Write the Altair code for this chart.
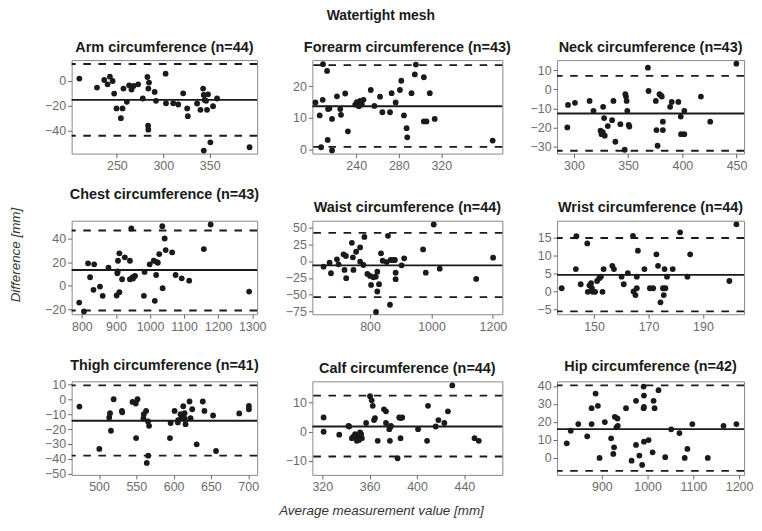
import altair as alt
import pandas as pd

FONT = "Liberation Sans"

# ---------------- data (average value, difference) ----------------
arm_x = [209.6, 228.6, 236.4, 240.0, 242.5, 245.4, 247.1, 249.6, 254.3, 256.1, 257.1, 260.7, 263.2, 265.7, 267.9,
         272.9, 277.9, 282.9, 283.9, 284.6, 283.6, 283.9, 290.7, 292.1, 302.5, 302.9, 310.7, 316.1, 321.4, 325.7,
         326.4, 336.4, 340.0, 342.9, 343.6, 344.6, 346.1, 347.1, 348.2, 353.6, 357.9, 343.6, 350.7, 392.9]
arm_y = [1.9, -5.3, 0.8, -2.7, 3.5, 0.0, -10.1, -22.1, -29.9, -22.1, -6.1, -16.8, -3.5, -6.9, -4.0,
         -2.7, -14.1, 3.2, -6.1, -1.3, -36.0, -39.2, -8.8, -16.0, 5.9, -17.9, -17.9, -18.9, -9.9, -22.1,
         -28.3, -18.1, -23.2, -6.1, -11.2, -15.2, -16.0, -23.2, -10.7, -20.3, -14.1, -56.0, -49.3, -53.3]
arm_lines = [-15.2, 13.6, -44.0]

forearm_x = [201.7, 205.7, 207.0, 208.5, 208.8, 212.6, 213.2, 213.5, 214.8, 217.3, 217.3, 221.9, 225.0, 225.7,
             229.7, 232.2, 239.1, 240.6, 242.5, 243.7, 245.3, 246.9, 253.7, 257.1, 262.4, 264.6, 271.8, 273.3,
             277.1, 281.1, 282.4, 284.9, 287.4, 288.0, 292.0, 296.1, 295.1, 303.6, 303.6, 306.1, 309.2, 313.8, 368.3]
forearm_y = [14.9, 10.8, 0.8, 15.7, 26.9, 24.8, 3.1, 12.8, 13.0, 9.7, -0.2, 16.8, 12.8, 11.0,
             17.7, 5.8, 14.2, 15.0, 13.7, 15.4, 14.2, 15.7, 18.8, 13.8, 16.7, 11.8, 11.8, 17.8,
             14.9, 18.8, 21.7, 10.8, 6.8, 3.9, 17.8, 26.8, 23.7, 22.8, 8.9, 8.9, 17.8, 9.7, 2.9]
forearm_lines = [13.7, 26.6, 0.9]

neck_x = [293.9, 294.5, 300.9, 314.4, 318.0, 326.9, 324.5, 325.4, 326.6, 327.8, 336.4, 331.2, 335.2, 338.2,
          342.8, 346.8, 347.4, 348.0, 348.6, 349.2, 350.5, 351.1, 368.2, 368.8, 375.5, 376.1, 377.1, 378.9,
          380.1, 381.0, 382.0, 382.0, 388.7, 390.2, 396.3, 398.5, 398.8, 401.8, 401.8, 417.1, 425.7, 449.8, 328.4]
neck_y = [-20.0, -8.2, -7.1, -6.1, -11.3, -9.2, -21.7, -23.5, -22.4, -15.1, -6.1, -19.3, -16.2, -27.5,
          -18.3, -31.7, -2.6, -3.8, -6.1, -11.3, -18.6, -19.5, 11.3, -0.9, -6.1, -21.4, -29.6, -2.6,
          -3.1, -3.8, -21.4, -17.0, -9.2, -6.6, -6.6, -14.3, -23.5, -23.5, -11.3, -3.8, -17.0, 13.4, -24.3]
neck_lines = [-12.7, 7.0, -32.2]

chest_x = [792, 818, 836, 824, 834, 853, 861, 878, 904, 902, 910, 906, 910, 918, 926, 941, 945, 941, 949, 956,
           982, 984, 999, 1011, 1014, 1018, 1023, 1027, 1037, 1036, 1043, 1046, 1065, 1075, 1093, 1115, 1158,
           1178, 1291, 806, 950, 1020, 905]
chest_y = [-14.4, 18.9, 18.1, 7.1, -3.6, -0.8, -8.7, 15.2, 10.5, -8.4, -5.6, 21.1, 27.4, 5.4, 24.0, 21.1, 48.5,
           5.4, 7.1, 8.2, -8.7, 11.6, 18.1, 21.1, -12.9, 9.0, 19.4, 26.8, -2.2, 50.5, 40.0, 30.2, 28.2, 9.0,
           6.2, 4.2, 31.0, 51.9, -5.1, -22.0, 6.0, 20.0, 12.0]
chest_lines = [13.3, 46.8, -21.1]

waist_x = [648.7, 668.2, 672.7, 692.1, 697.3, 713.5, 716.7, 722.3, 721.3, 740.7, 744.0, 745.9, 754.6, 767.6,
           767.6, 778.3, 781.5, 791.3, 800.0, 803.2, 810.7, 818.5, 823.6, 823.6, 829.2, 835.6, 841.1, 854.1,
           858.3, 867.1, 875.5, 881.0, 883.3, 883.3, 902.7, 911.1, 972.7, 981.4, 1007.3, 1026.8, 1145.6,
           1200.7, 819.4, 864.8]
waist_y = [-8.4, -2.5, -18.1, 2.5, -4.9, 9.9, -13.2, -25.4, 7.4, 26.9, 5.4, -13.2, 13.7, 20.1,
           -1.0, -5.9, 35.7, -19.1, -22.1, -35.3, -24.0, -23.1, -15.7, -45.1, -34.3, 11.3, 0.4, -1.5,
           37.2, 1.5, 1.5, 1.5, -17.2, -26.9, -6.3, 4.0, 17.2, -17.2, 54.0, -11.3, -26.5,
           4.9, -75.4, -64.7]
waist_lines = [-6.4, 41.6, -53.4]

wrist_x = [138.1, 143.5, 143.3, 145.1, 147.5, 148.3, 148.9, 149.2, 147.7, 149.5, 150.4, 153.1, 151.1, 151.9,
           152.5, 153.5, 156.7, 157.3, 160.1, 160.9, 162.4, 164.3, 164.5, 165.2, 165.7, 166.1, 165.7, 168.5,
           170.5, 171.7, 172.9, 173.5, 174.4, 175.3, 175.6, 176.2, 175.9, 176.8, 178.9, 181.6, 184.3, 185.3,
           199.7, 202.3]
wrist_y = [0.9, 15.3, 6.2, 2.0, 13.3, 1.7, 2.3, 0.9, -0.1, -0.1, -0.1, -0.1, 2.9, 3.7,
           4.1, 6.2, 7.1, 6.2, 4.1, 2.0, 5.1, 15.4, 0.0, -1.0, 4.1, 11.3, 0.9, 6.2,
           0.9, 0.9, 10.3, 7.1, -3.0, 0.9, -1.0, 0.9, 6.2, 4.1, 6.2, 16.4, 4.1, 10.3,
           2.9, 18.6]
wrist_lines = [4.6, 14.8, -5.5]

thigh_x = [473.7, 500.4, 513.7, 514.7, 516.0, 519.6, 530.7, 531.1, 544.9, 549.3, 551.6, 549.7, 559.6, 563.1,
           565.7, 567.1, 565.9, 564.0, 595.1, 596.0, 601.3, 605.7, 609.3, 610.7, 612.9, 614.7, 616.0, 621.3,
           622.7, 624.9, 630.9, 639.1, 641.3, 652.9, 656.8, 688.0, 700.9, 700.9, 606.0, 615.0, 560.0]
thigh_y = [-4.9, -33.3, -12.2, -9.3, -21.1, 0.0, -7.8, -8.7, -1.8, -2.9, 0.0, -26.0, -12.9, -7.8,
           -14.9, -17.8, -37.8, -42.7, -26.0, -16.0, -7.8, -15.5, -10.0, -12.2, -4.7, -9.3, -16.7, -1.5,
           -12.7, -6.7, -30.2, -1.5, -7.8, -10.9, -34.7, -9.5, -6.7, -4.5, -14.0, -13.0, -10.0]
thigh_lines = [-14.4, 9.3, -37.8]

calf_x = [321.1, 321.1, 334.3, 342.1, 342.7, 345.0, 346.3, 347.7, 349.2, 350.0, 351.1, 351.9, 352.8, 353.4,
          357.0, 360.3, 361.7, 362.6, 363.7, 364.5, 366.8, 372.1, 373.8, 373.8, 376.6, 377.1, 377.1, 378.0,
          385.0, 386.1, 386.1, 387.5, 400.9, 408.5, 409.3, 415.8, 418.1, 423.1, 426.1, 429.8, 448.6, 452.2,
          383.6, 352.0]
calf_y = [4.9, 0.0, -1.0, 2.0, 1.8, -2.2, -1.7, -0.8, -3.1, -1.9, -2.8, -0.2, -0.8, -2.2,
          3.0, 12.2, 10.8, 8.9, 4.0, 4.7, -3.1, 7.7, 7.0, 3.0, 0.9, 1.5, -3.1, 2.0,
          4.9, -2.2, 4.7, 4.9, 0.9, -3.1, 8.9, 1.8, 4.0, 3.0, 7.0, 15.9, -2.2, -3.1,
          -9.1, -1.2]
calf_lines = [1.8, 12.4, -8.5]

hip_x = [823.3, 832.0, 848.5, 868.0, 877.6, 877.6, 886.3, 891.3, 920.2, 926.7, 928.3, 932.0, 934.1, 934.8,
         952.8, 974.6, 974.6, 991.3, 992.0, 991.3, 992.0, 992.0, 1002.2, 1013.0, 1015.2, 1023.9, 1010.9,
         1051.5, 1069.6, 1087.0, 1097.8, 1165.9, 1194.1, 895.0, 925.0, 965.0, 982.0, 988.0, 1038.5, 1081.1,
         1131.5, 906.5]
hip_y = [8.1, 15.1, 18.8, 12.0, 18.8, 27.6, 35.7, 28.9, 10.9, 5.9, 22.8, 17.0, 21.9, 17.8,
         27.6, 31.7, 7.2, 39.6, 34.6, 27.6, 28.3, 9.0, 9.9, 31.7, 27.6, 37.6, 3.1,
         15.9, 13.8, 5.0, 18.8, 17.8, 18.8, 0.0, 2.2, -1.5, 1.3, -3.9, 0.4, 0.0,
         0.0, 19.9]
hip_lines = [16.0, 40.3, -7.2]

titles = ["Arm circumference (n=44)", "Forearm circumference (n=43)", "Neck circumference (n=43)",
          "Chest circumference (n=43)", "Waist circumference (n=44)", "Wrist circumference (n=44)",
          "Thigh circumference (n=41)", "Calf circumference (n=44)", "Hip circumference (n=42)"]

# per-panel scale setup
panels = [
    dict(x=arm_x, y=arm_y, lines=arm_lines, xdom=[201.3, 401.1], ydom=[-58.4, 16.8],
         xt=[250, 300, 350], yt=[-40, -20, 0]),
    dict(x=forearm_x, y=forearm_y, lines=forearm_lines, xdom=[198.8, 377.4], ydom=[-1.2, 28.2],
         xt=[240, 280, 320], yt=[0, 10, 20]),
    dict(x=neck_x, y=neck_y, lines=neck_lines, xdom=[284.4, 456.9], ydom=[-33.7, 15.3],
         xt=[300, 350, 400, 450], yt=[-30, -20, -10, 0, 10]),
    dict(x=chest_x, y=chest_y, lines=chest_lines, xdom=[769.9, 1314.6], ydom=[-24.3, 55.1],
         xt=[800, 900, 1000, 1100, 1200, 1300], yt=[-20, 0, 20, 40]),
    dict(x=waist_x, y=waist_y, lines=waist_lines, xdom=[612.1, 1230.8], ydom=[-78.7, 59.6],
         xt=[800, 1000, 1200], yt=[-75, -50, -25, 0, 25, 50]),
    dict(x=wrist_x, y=wrist_y, lines=wrist_lines, xdom=[136.4, 205.1], ydom=[-6.3, 19.6],
         xt=[150, 170, 190], yt=[-5, 0, 5, 10, 15]),
    dict(x=thigh_x, y=thigh_y, lines=thigh_lines, xdom=[463.3, 712.0], ydom=[-50.7, 12.0],
         xt=[500, 550, 600, 650, 700], yt=[-50, -40, -30, -20, -10, 0, 10]),
    dict(x=calf_x, y=calf_y, lines=calf_lines, xdom=[311.6, 472.1], ydom=[-14.8, 17.3],
         xt=[320, 360, 400, 440], yt=[-10, 0, 10]),
    dict(x=hip_x, y=hip_y, lines=hip_lines, xdom=[802.1, 1210.8], ydom=[-9.4, 42.5],
         xt=[900, 1000, 1100, 1200], yt=[-10, 0, 10, 20, 30, 40]),
]

COL_W = [186.5, 191, 188]
ROW_H = 94
INK = "#1a1a1a"


def make_panel(i, y_title=False, x_title=False):
    p = panels[i]
    xs = alt.Scale(domain=p["xdom"], nice=False, zero=False)
    ys = alt.Scale(domain=p["ydom"], nice=False, zero=False)
    xkw = dict(values=p["xt"], format="d", labelFlush=False, labelOverlap=False, title=None)
    if x_title:
        xkw.update(title="Average measurement value [mm]", titleFontStyle="italic", titleFontWeight="normal",
                   titleFontSize=13.5, titleColor="#333333", titleX=69, titlePadding=10)
    ykw = dict(values=p["yt"], format="d", labelFlush=False, labelOverlap=False, title=None)
    if y_title:
        ykw.update(title="Difference [mm]", titleFontStyle="italic", titleFontWeight="normal",
                   titleFontSize=13.5, titleColor="#333333", titleY=34, titlePadding=22)
    yenc = alt.Y("diff:Q", scale=ys, axis=alt.Axis(**ykw))
    pts_df = pd.DataFrame({"avg": p["x"], "diff": p["y"]})
    mean_df = pd.DataFrame({"diff": [p["lines"][0]]})
    loa_df = pd.DataFrame({"diff": p["lines"][1:]})
    mean = alt.Chart(mean_df).mark_rule(color=INK, strokeWidth=1.9).encode(y=yenc)
    loa = alt.Chart(loa_df).mark_rule(color=INK, strokeWidth=1.9, strokeDash=[7.6, 7.6]).encode(y=yenc)
    pts = alt.Chart(pts_df).mark_circle(size=34, color=INK, opacity=1).encode(
        x=alt.X("avg:Q", scale=xs, axis=alt.Axis(**xkw)), y=yenc)
    return alt.layer(mean, loa, pts).properties(
        width=COL_W[i % 3], height=ROW_H,
        title=alt.TitleParams(titles[i], font=FONT, fontSize=14.5, fontWeight="bold", color=INK,
                              anchor="middle", frame="group", offset=5))


charts = [make_panel(i, y_title=(i == 3), x_title=(i == 7)) for i in range(9)]

chart = alt.concat(*charts, columns=3, bounds="flush", spacing={"row": 67.5, "column": 55}).properties(
    padding=0,
    title=alt.TitleParams("Watertight mesh", font=FONT, fontSize=14, fontWeight="bold", color=INK,
                          anchor="middle", offset=16),
).configure_view(stroke="#888888", strokeWidth=1).configure_axis(
    labelFont=FONT, labelFontSize=12.5, labelColor="#6b6b6b", tickColor="#666666", tickSize=4,
    labelPadding=2, domain=False, grid=False, titleFont=FONT,
)

chart.save("out.html", embed_options={"renderer": "svg", "actions": False})
